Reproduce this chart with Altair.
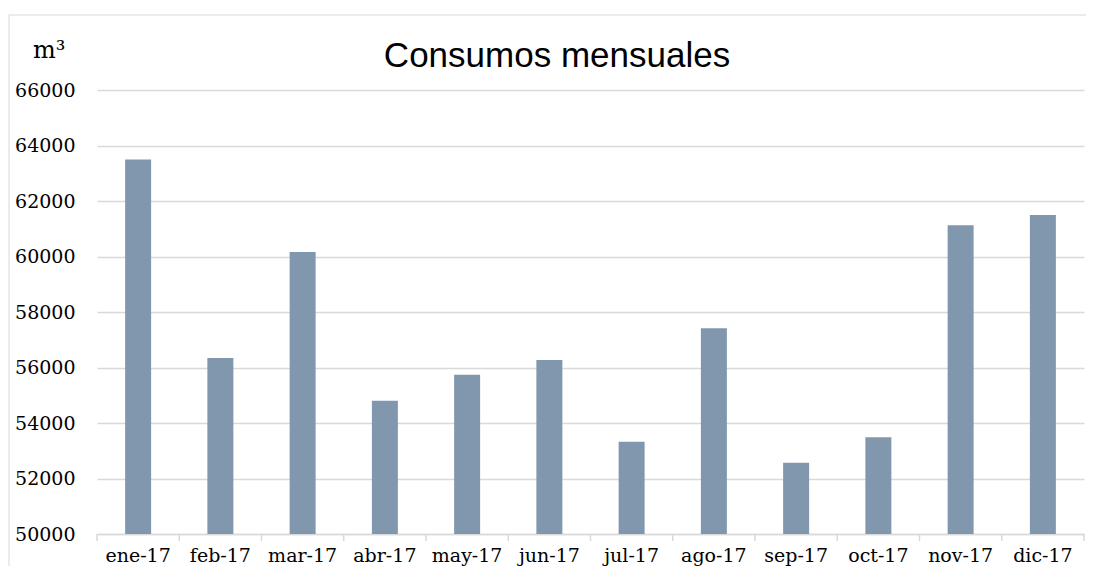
import altair as alt
import pandas as pd

# ---- data ----
months = ["ene-17", "feb-17", "mar-17", "abr-17", "may-17", "jun-17",
          "jul-17", "ago-17", "sep-17", "oct-17", "nov-17", "dic-17"]
consumo = [63500, 56340, 60160, 54800, 55740, 56270,
           53320, 57410, 52570, 53490, 61130, 61500]
y_ticks = [50000, 52000, 54000, 56000, 58000, 60000, 62000, 64000, 66000]
title_text = "Consumos mensuales"
unit_text = "m³"

df = pd.DataFrame({"mes": months, "consumo": consumo})
df_last = pd.DataFrame({"mes": months[-1:]})

GRID = "#D9D9D9"
BAR = "#8097AD"
SERIF = "DejaVu Serif"

one_row = alt.Data(values=[{"k": 1}])

frame_top = alt.Chart(one_row).mark_rule(color=GRID, strokeWidth=1).encode(
    x=alt.value(-88), x2=alt.value(1007), y=alt.value(-75)
)
frame_left = alt.Chart(one_row).mark_rule(color=GRID, strokeWidth=1).encode(
    x=alt.value(-88), y=alt.value(-75), y2=alt.value(494)
)

x_enc = alt.X("mes:N", sort=months,
              scale=alt.Scale(paddingInner=0, paddingOuter=0),
              axis=alt.Axis(title=None, labelAngle=0, labelFont=SERIF,
                            labelFontSize=19, labelColor="#000000",
                            ticks=False, domainColor=GRID, domainWidth=1.5,
                            labelPadding=12, grid=False))

bars = alt.Chart(df).mark_bar(
    color=BAR, width=alt.RelativeBandSize(0.316), clip=True
).encode(
    x=x_enc,
    y=alt.Y("consumo:Q",
            scale=alt.Scale(domain=[50000, 66000], nice=False, zero=False),
            axis=alt.Axis(values=y_ticks, format="d", title=None,
                          labelFont=SERIF, labelFontSize=19,
                          labelColor="#000000", domain=False, ticks=False,
                          gridColor=GRID, gridWidth=1.5, labelPadding=22)),
)

# category-boundary tick marks (Excel style)
ticks_start = alt.Chart(df).mark_rule(color=GRID, strokeWidth=1.5).encode(
    x=alt.X("mes:N", sort=months, bandPosition=0),
    y=alt.value(444), y2=alt.value(451),
)
ticks_end = alt.Chart(df_last).mark_rule(color=GRID, strokeWidth=1.5).encode(
    x=alt.X("mes:N", sort=months, bandPosition=1),
    y=alt.value(444), y2=alt.value(451),
)

title = alt.Chart(alt.Data(values=[{"t": title_text}])).mark_text(
    font="Liberation Sans", fontSize=35, color="#000000",
    align="center", baseline="alphabetic"
).encode(text="t:N", x=alt.value(460), y=alt.value(-23.5))

unit = alt.Chart(alt.Data(values=[{"t": unit_text}])).mark_text(
    font=SERIF, fontSize=24, color="#000000",
    align="left", baseline="alphabetic"
).encode(text="t:N", x=alt.value(-64), y=alt.value(-32))

chart = alt.layer(frame_top, frame_left, bars, ticks_start, ticks_end,
                  title, unit).properties(
    width=987, height=444,
    background="#ffffff",
    autosize=alt.AutoSizeParams(type="none"),
    padding={"left": 89, "top": 82, "right": 2, "bottom": 32},
).configure_view(strokeWidth=0)

chart.save("out.html", embed_options={"renderer": "svg", "actions": False})
